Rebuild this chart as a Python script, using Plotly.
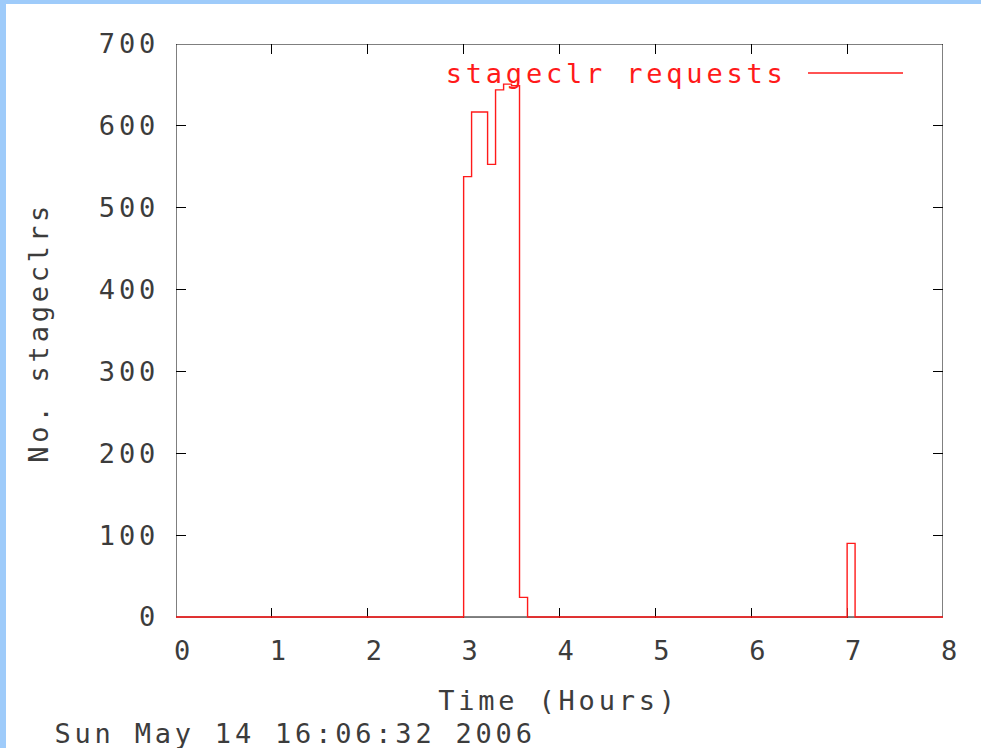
import plotly.graph_objects as go

# Stageclr request counts per 5-minute bin (hours since start)
bin_start_hours = [0.0, 3.0, 3.083, 3.167, 3.25, 3.333, 3.417, 3.5, 3.583, 3.667, 7.0, 7.083, 8.0]
stageclr_counts = [0, 538, 617, 617, 553, 644, 651, 649, 24, 0, 90, 0, 0]

x_ticks = [0, 1, 2, 3, 4, 5, 6, 7, 8]
y_ticks = [0, 100, 200, 300, 400, 500, 600, 700]

series_name = "stageclr requests"
x_title = "Time (Hours)"
y_title = "No. stageclrs"
timestamp = "Sun May 14 16:06:32 2006"

W, H = 981, 748
L, R, T, B = 176, 943, 44, 618
PW, PH = R - L, B - T

FONT = "DejaVu Sans Mono"
FS = 27
TXT = "#3c3c3c"
RED = "#ff1a1a"
FRAME = "#9ecbfa"

X_RANGE = [0, 8]
Y_RANGE = [-1.2, 700]   # small pad so the zero-level step line is not clipped


def px(x):
    return (x - L) / PW


def py(y):
    return (B - y) / PH


fig = go.Figure()
fig.add_trace(go.Scatter(
    x=bin_start_hours, y=stageclr_counts,
    mode="lines", line=dict(color=RED, width=1.4, shape="hv"),
    name=series_name, showlegend=False, cliponaxis=False,
    hoverinfo="x+y",
))

# axis frame is a shape drawn beneath the data so the red step line sits on top of it
axis_common = dict(
    showgrid=False, zeroline=False, showline=False,
    mirror="ticks", ticks="inside", ticklen=10, tickcolor="black", tickwidth=1,
    tickfont=dict(family=FONT, size=FS, color=TXT), layer="below traces",
)
fig.update_xaxes(range=X_RANGE, tickvals=x_ticks, ticktext=[str(v) for v in x_ticks],
                 ticklabelstandoff=14, ticklabelshift=8, **axis_common)
fig.update_yaxes(range=Y_RANGE, tickvals=y_ticks, ticktext=[str(v) for v in y_ticks],
                 ticklabelstandoff=16, **axis_common)

annotations = [
    dict(text=x_title, x=px(558), y=py(700)),
    dict(text=y_title, x=px(38), y=py(333), textangle=-90),
    dict(text=timestamp, x=px(295), y=py(733)),
    dict(text=series_name, x=px(616), y=py(73), font=dict(family=FONT, size=FS, color=RED)),
]
for a in annotations:
    a.setdefault("font", dict(family=FONT, size=FS, color=TXT))
    fig.add_annotation(xref="paper", yref="paper", xanchor="center", yanchor="middle",
                       showarrow=False, **a)

shapes = [
    # plot border, bottom edge on the zero level
    dict(type="rect", xref="x", yref="y", x0=X_RANGE[0], x1=X_RANGE[1], y0=0, y1=Y_RANGE[1],
         line=dict(color="black", width=1), layer="below"),
    # legend sample line
    dict(type="line", xref="paper", yref="paper", x0=px(808), x1=px(903), y0=py(73), y1=py(73),
         line=dict(color=RED, width=1.4)),
    # page frame: top and left bands
    dict(type="rect", xref="paper", yref="paper", x0=px(0), x1=px(W), y0=py(0), y1=py(4),
         line=dict(width=0), fillcolor=FRAME, layer="below"),
    dict(type="rect", xref="paper", yref="paper", x0=px(0), x1=px(6), y0=py(0), y1=py(H),
         line=dict(width=0), fillcolor=FRAME, layer="below"),
]
fig.update_layout(
    width=W, height=H, autosize=False,
    margin=dict(l=L, r=W - R, t=T, b=H - B, pad=0),
    paper_bgcolor="white", plot_bgcolor="white",
    shapes=shapes, showlegend=False,
)

spacing_js = """
var gd = document.getElementById('{plot_id}');
function widen(){
  gd.querySelectorAll('text').forEach(function(t){ t.style.letterSpacing = '3.8px'; });
}
widen();
setTimeout(widen, 50);
gd.on('plotly_afterplot', widen);
"""
fig.write_html("out.html", post_script=spacing_js)
